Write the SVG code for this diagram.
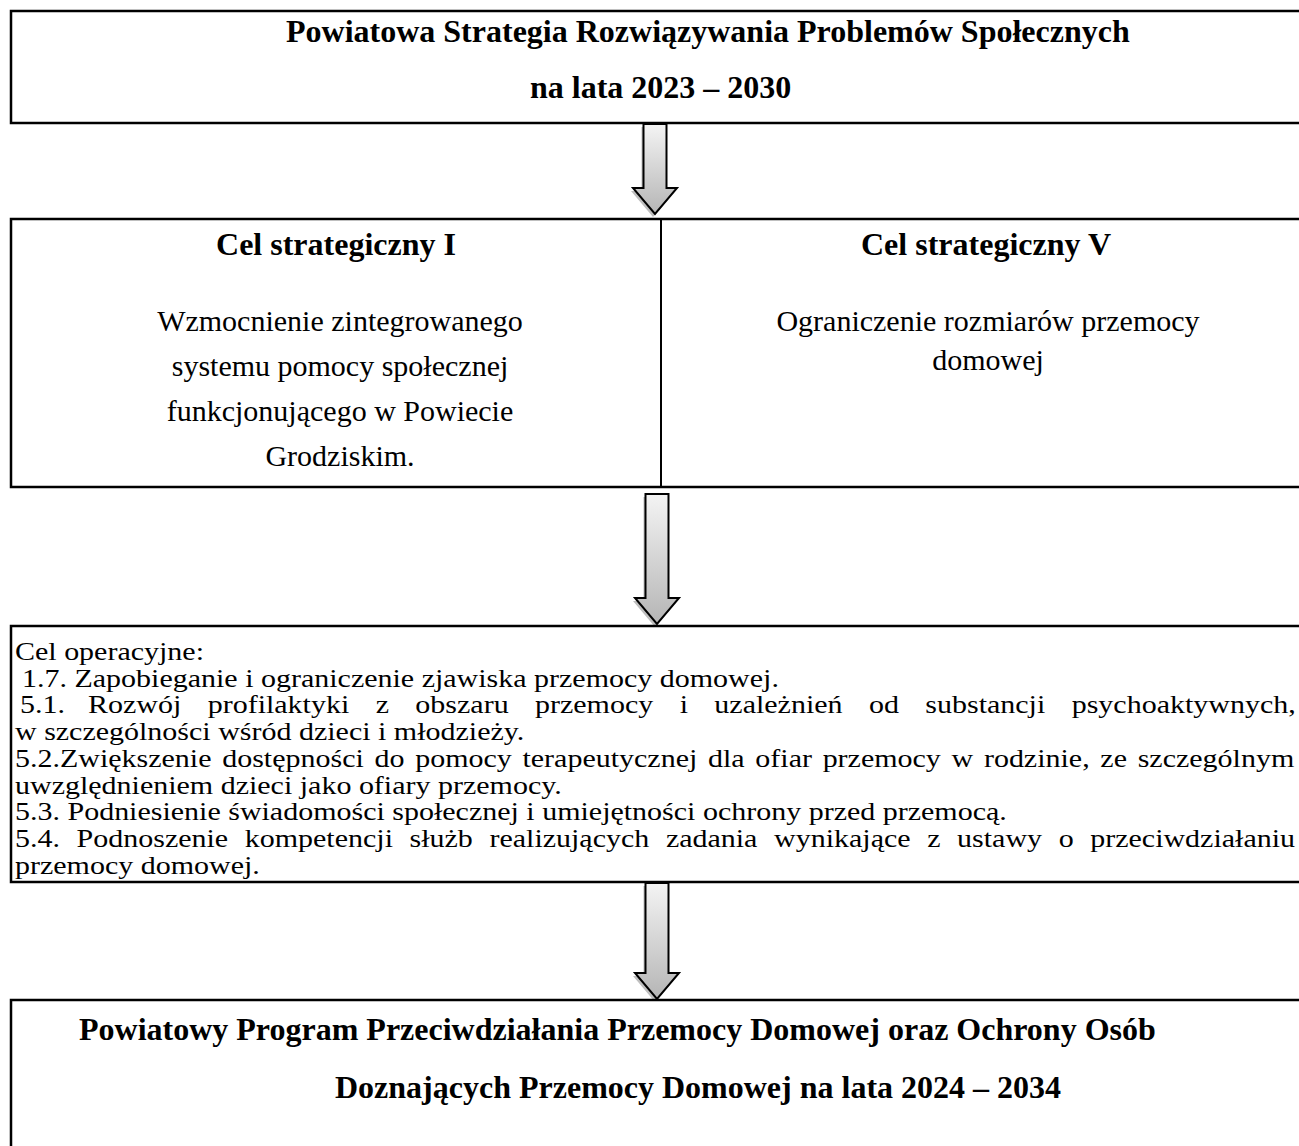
<svg xmlns="http://www.w3.org/2000/svg" width="1299" height="1146" viewBox="0 0 1299 1146">
  <style>
    .box { fill: #ffffff; stroke: #000000; stroke-width: 2.5; }
    .div { stroke: #000000; stroke-width: 2; }
    .title { font-family: "Liberation Serif", "Times New Roman", serif; font-size: 32px; font-weight: bold; fill: #000; }
    .body { font-family: "Liberation Serif", "Times New Roman", serif; font-size: 30px; fill: #000; }
    .mid { text-anchor: middle; }
    .arrow { fill: url(#ag); stroke: #000; stroke-width: 2; stroke-linejoin: miter; }
    .shadow { fill: #8a8a8a; opacity: 0.55; }
  </style>
  <defs>
    <linearGradient id="ag" x1="0" y1="0" x2="0" y2="1">
      <stop offset="0" stop-color="#f4f4f4"/>
      <stop offset="1" stop-color="#b5b5b5"/>
    </linearGradient>
  </defs>

  <rect width="1299" height="1146" fill="#ffffff"/>

  <g id="connectors">
    <g transform="translate(655,124)">
      <path class="shadow" transform="translate(-2,3)" d="M -11.5 0 L 11.5 0 L 11.5 64 L 22 64 L 0 90 L -22 64 L -11.5 64 Z"/>
      <path class="arrow" d="M -11.5 0 L 11.5 0 L 11.5 64 L 22 64 L 0 90 L -22 64 L -11.5 64 Z"/>
    </g>
    <g transform="translate(657,494)">
      <path class="shadow" transform="translate(-2,3)" d="M -11.5 0 L 11.5 0 L 11.5 104 L 22 104 L 0 130 L -22 104 L -11.5 104 Z"/>
      <path class="arrow" d="M -11.5 0 L 11.5 0 L 11.5 104 L 22 104 L 0 130 L -22 104 L -11.5 104 Z"/>
    </g>
    <g transform="translate(657,883)">
      <path class="shadow" transform="translate(-2,3)" d="M -11.5 0 L 11.5 0 L 11.5 90 L 22 90 L 0 116 L -22 90 L -11.5 90 Z"/>
      <path class="arrow" d="M -11.5 0 L 11.5 0 L 11.5 90 L 22 90 L 0 116 L -22 90 L -11.5 90 Z"/>
    </g>
  </g>

  <g id="node-strategia">
    <rect class="box" x="11" y="11" width="1300" height="112"/>
    <text class="title" x="286" y="42">Powiatowa Strategia Rozwiązywania Problemów Społecznych</text>
    <text class="title" x="530" y="98">na lata 2023 – 2030</text>
  </g>

  <g id="node-cele-strategiczne">
    <rect class="box" x="11" y="219" width="1300" height="268"/>
    <line class="div" x1="661" y1="219" x2="661" y2="487"/>
    <g id="node-cel-I">
      <text class="title mid" x="336" y="255">Cel strategiczny I</text>
      <text class="body mid" x="340" y="331">Wzmocnienie zintegrowanego</text>
      <text class="body mid" x="340" y="376">systemu pomocy społecznej</text>
      <text class="body mid" x="340" y="421">funkcjonującego w Powiecie</text>
      <text class="body mid" x="340" y="466">Grodziskim.</text>
    </g>
    <g id="node-cel-V">
      <text class="title mid" x="986" y="255">Cel strategiczny V</text>
      <text class="body mid" x="988" y="331">Ograniczenie rozmiarów przemocy</text>
      <text class="body mid" x="988" y="370">domowej</text>
    </g>
  </g>

  <g id="node-cele-operacyjne">
    <rect class="box" x="11" y="626" width="1300" height="256"/>
    <g transform="scale(1,0.82)">
      <text class="body" x="15" y="804.88">Cel operacyjne:</text>
      <text class="body" x="22" y="837.5">1.7. Zapobieganie i ograniczenie zjawiska przemocy domowej.</text>
      <text class="body" x="20" y="870.12">5.1.</text>
      <text class="body" x="88" y="870.12" word-spacing="18.9">Rozwój profilaktyki z obszaru przemocy i uzależnień od substancji psychoaktywnych,</text>
      <text class="body" x="15" y="902.74">w szczególności wśród dzieci i młodzieży.</text>
      <text class="body" x="15" y="935.37" word-spacing="3.2">5.2.Zwiększenie dostępności do pomocy terapeutycznej dla ofiar przemocy w rodzinie, ze szczególnym</text>
      <text class="body" x="15" y="967.99">uwzględnieniem dzieci jako ofiary przemocy.</text>
      <text class="body" x="15" y="1000.61">5.3. Podniesienie świadomości społecznej i umiejętności ochrony przed przemocą.</text>
      <text class="body" x="15" y="1033.23" word-spacing="9.1">5.4. Podnoszenie kompetencji służb realizujących zadania wynikające z ustawy o przeciwdziałaniu</text>
      <text class="body" x="15" y="1065.85">przemocy domowej.</text>
    </g>
  </g>

  <g id="node-program">
    <rect class="box" x="11" y="1000" width="1300" height="160"/>
    <text class="title" x="79" y="1040">Powiatowy Program Przeciwdziałania Przemocy Domowej oraz Ochrony Osób</text>
    <text class="title" x="335" y="1098">Doznających Przemocy Domowej na lata 2024 – 2034</text>
  </g>
</svg>
